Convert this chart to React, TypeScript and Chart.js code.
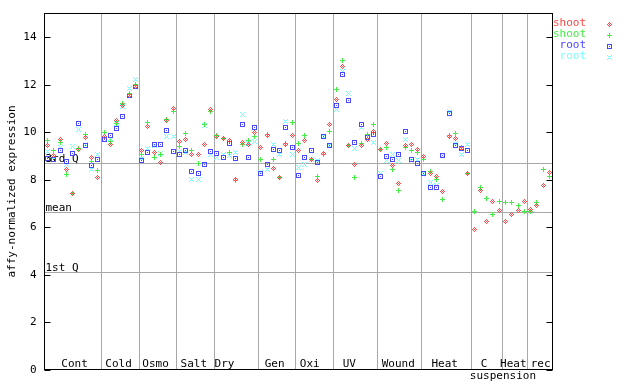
import React, { useEffect, useRef } from 'react';
import { Chart, registerables } from 'chart.js';
Chart.register(...registerables);

// ---- data ----
const categories = ['Cont', 'Cold', 'Osmo', 'Salt', 'Dry', 'Gen', 'Oxi', 'UV', 'Wound', 'Heat', 'C', 'Heat', 'rec'];
const groupSizes = [9, 6, 6, 6, 7, 6, 6, 7, 7, 8, 5, 4, 4];
const categoryLabelAt = [4.3, 11.3, 17.2, 23.3, 28.2, 36.2, 41.8, 48.1, 55.9, 63.3, 69.6, 74.25, 78.6];
const subLabel = 'suspension';
const subLabelAt = 72.6;
const yTicks = [0, 2, 4, 6, 8, 10, 12, 14];
const refLines = [
  { name: '3rd Q', value: 8.70 },
  { name: 'mean', value: 6.62 },
  { name: '1st Q', value: 4.10 },
];
const seriesNames = ['shoot', 'shoot', 'root', 'root'];

const shootA = [
  9.42, 9.00, 9.71, 8.44, 7.42, 9.28, 9.78, 8.94, 8.10,
  9.81, 9.50, 10.51, 11.13, 11.55, 11.93,
  9.21, 10.23, 9.15, 8.73, 10.49, 11.00,
  9.60, 9.70, 9.08, 9.08, 9.49, 10.94,
  9.80, 9.74, 9.66, 7.99, 9.57, 9.46, 9.99,
  9.36, 9.84, 8.48, 8.10, 9.49, 9.87,
  9.24, 9.66, 8.85, 7.97, 9.11, 10.33,
  11.39, 12.78, 9.42, 8.62, 9.45, 9.70, 10.04,
  9.28, 9.53, 8.59, 7.82, 9.42, 9.46, 9.25,
  8.97, 8.27, 8.15, 7.48, 9.81, 9.73, 9.32, 8.24,
  5.88, 7.54, 6.23, 7.09, 6.68,
  6.23, 6.55, 6.68, 7.09,
  6.76, 6.93, 7.77, 8.31,
];
const shootB = [
  9.63, 9.21, 9.57, 8.20, 7.42, 9.32, 9.91, 8.76, 8.39,
  10.00, 9.60, 10.37, 11.19, 11.64, 11.99,
  9.04, 10.40, 8.94, 9.07, 10.54, 10.86,
  9.39, 9.95, 9.21, 8.69, 10.33, 10.85,
  9.84, 9.74, 9.15, 7.96, 9.49, 9.63, 9.81,
  8.86, 9.90, 8.86, 8.10, 9.53, 10.39,
  9.53, 9.84, 8.83, 8.13, 9.04, 10.01,
  11.78, 13.03, 9.42, 8.10, 9.53, 9.91, 10.33,
  9.28, 9.35, 8.44, 7.56, 9.35, 9.22, 9.15,
  8.86, 8.36, 8.02, 7.17, 9.88, 9.95, 9.35, 8.24,
  6.67, 7.68, 7.21, 6.54, 7.09,
  7.05, 7.05, 6.93, 6.64,
  6.64, 7.05, 8.44, 8.13,
];
const rootA = [
  8.87, 8.86, 9.21, 8.76, 9.11, 10.37, 9.42, 8.59, 8.86,
  9.67, 9.87, 10.16, 10.67, 11.55, 11.93,
  8.82, 9.15, 9.49, 9.49, 10.08, 9.19,
  9.07, 9.21, 8.35, 8.27, 8.65, 9.18,
  9.11, 8.94, 9.53, 8.90, 10.33, 8.94, 10.21,
  8.24, 8.65, 9.28, 9.21, 10.21, 9.36,
  8.18, 8.94, 9.24, 8.72, 9.83, 9.42,
  11.13, 12.45, 11.34, 9.57, 10.33, 9.78, 9.91,
  8.13, 8.97, 8.86, 9.07, 10.04, 8.83, 8.69,
  8.27, 7.66, 7.66, 9.02, 10.80, 9.42, 9.32, 9.22,
  null, null, null, null, null,
  null, null, null, null,
  null, null, null, null,
];
const rootB = [
  9.18, 8.95, 9.36, 8.62, 9.41, 10.12, 9.50, 8.44, 9.04,
  9.67, 9.74, 10.35, 11.07, 11.83, 12.20,
  8.90, 9.33, 9.42, 9.11, 9.80, 9.80,
  9.18, 9.14, 8.01, 7.99, 10.30, 9.08,
  8.94, 9.08, 9.00, 9.14, 10.74, 9.53, 9.60,
  8.32, 8.44, 9.50, 9.04, 10.43, 9.08,
  8.52, 8.65, 8.83, 8.79, 9.83, 9.42,
  10.94, 12.57, 11.64, 9.32, 10.21, 9.71, 9.57,
  8.27, 8.80, 9.07, 8.80, 9.70, 8.80, 8.83,
  8.27, 7.87, 7.75, 9.02, 10.86, 9.53, 9.07, 9.49,
  null, null, null, null, null,
  null, null, null, null,
  null, null, null, null,
];

const COLORS = ['#ff4848', '#44ee44', '#4848ff', '#77ffff'];
const FONT = '11px "DejaVu Sans Mono", monospace';

type Kind = 'diamond' | 'plus' | 'square' | 'x';
function sprite(color: string, kind: Kind): HTMLCanvasElement {
  const c = document.createElement('canvas');
  c.width = 5;
  c.height = 5;
  const g = c.getContext('2d')!;
  g.fillStyle = color;
  let pts: number[][] = [];
  if (kind === 'diamond') pts = [[2, 0], [1, 1], [3, 1], [0, 2], [2, 2], [4, 2], [1, 3], [3, 3], [2, 4]];
  if (kind === 'plus') pts = [[2, 0], [2, 1], [0, 2], [1, 2], [2, 2], [3, 2], [4, 2], [2, 3], [2, 4]];
  if (kind === 'square') pts = [[0, 0], [1, 0], [2, 0], [3, 0], [4, 0], [0, 4], [1, 4], [2, 4], [3, 4], [4, 4], [0, 1], [0, 2], [0, 3], [4, 1], [4, 2], [4, 3], [2, 2]];
  if (kind === 'x') pts = [[0, 0], [4, 0], [1, 1], [3, 1], [2, 2], [1, 3], [3, 3], [0, 4], [4, 4]];
  pts.forEach(([x, y]) => g.fillRect(x, y, 1, 1));
  return c;
}

export default function App() {
  const ref = useRef<HTMLCanvasElement>(null);
  useEffect(() => {
    document.body.style.margin = '0';
    const kinds: Kind[] = ['diamond', 'plus', 'square', 'x'];
    const sprites = kinds.map((k, i) => sprite(COLORS[i], k));
    const all = [shootA, shootB, rootA, rootB];
    const datasets = all.map((arr, si) => ({
      label: seriesNames[si],
      data: arr.map((v, i) => ({ x: i, y: v })).filter((p) => p.y !== null),
      pointStyle: sprites[si] as any,
      pointRadius: 3,
      showLine: false,
    }));

    const bounds: number[] = [];
    let acc = 0;
    groupSizes.forEach((n) => { acc += n; bounds.push(acc - 0.5); });

    const deco = {
      id: 'deco',
      beforeDatasetsDraw(chart: any) {
        const { ctx, chartArea: a, scales } = chart;
        const xs = scales.x, ys = scales.y;
        ctx.save();
        ctx.lineWidth = 1;
        ctx.strokeStyle = '#a8a8a8';
        bounds.slice(0, -1).forEach((b) => {
          const px = Math.round(xs.getPixelForValue(b)) + 0.5;
          ctx.beginPath(); ctx.moveTo(px, a.top); ctx.lineTo(px, a.bottom); ctx.stroke();
        });
        ctx.font = FONT;
        ctx.fillStyle = '#000';
        refLines.forEach((r) => {
          const py = Math.round(ys.getPixelForValue(r.value)) + 0.5;
          ctx.beginPath(); ctx.moveTo(a.left, py); ctx.lineTo(a.right, py); ctx.stroke();
          ctx.textAlign = 'left'; ctx.textBaseline = 'alphabetic';
          ctx.fillText(r.name, a.left + 1, py - 1.5);
        });
        // category labels
        ctx.textAlign = 'center'; ctx.textBaseline = 'middle';
        categories.forEach((c, i) => {
          ctx.fillText(c, xs.getPixelForValue(categoryLabelAt[i]), a.bottom - 5);
        });
        ctx.fillText(subLabel, xs.getPixelForValue(subLabelAt), a.bottom + 7);
        // border
        ctx.strokeStyle = '#000';
        ctx.strokeRect(a.left, a.top, a.right - a.left, a.bottom - a.top);
        // ticks
        ctx.textAlign = 'right'; ctx.textBaseline = 'middle';
        yTicks.forEach((t) => {
          const py = Math.round(ys.getPixelForValue(t)) + 0.5;
          ctx.beginPath();
          ctx.moveTo(a.left, py); ctx.lineTo(a.left + 6, py);
          ctx.moveTo(a.right - 6, py); ctx.lineTo(a.right, py);
          ctx.stroke();
          ctx.fillText(String(t), a.left - 8, py);
        });
        // y title
        ctx.save();
        ctx.translate(12, (a.top + a.bottom) / 2);
        ctx.rotate(-Math.PI / 2);
        ctx.textAlign = 'center'; ctx.textBaseline = 'middle';
        ctx.fillText('affy-normalized expression', 0, 0);
        ctx.restore();
        ctx.restore();
        ctx.imageSmoothingEnabled = false;
      },
      afterDraw(chart: any) {
        const { ctx } = chart;
        ctx.save();
        ctx.imageSmoothingEnabled = false;
        ctx.font = FONT;
        ctx.textAlign = 'right'; ctx.textBaseline = 'middle';
        seriesNames.forEach((n, i) => {
          const y = 23.5 + i * 11;
          ctx.fillStyle = COLORS[i];
          ctx.fillText(n, 586, y);
          ctx.drawImage(sprites[i], 607, Math.round(y) - 2);
        });
        ctx.restore();
      },
    };

    const chart = new Chart(ref.current!, {
      type: 'scatter',
      data: { datasets: datasets as any },
      options: {
        animation: false,
        responsive: false,
        devicePixelRatio: 1,
        layout: { padding: { left: 44.5, right: 87.5, top: 13.5, bottom: 14.5 } },
        scales: {
          x: { type: 'linear', min: -0.5, max: 80.5, display: false },
          y: { type: 'linear', min: 0, max: 15, display: false },
        },
        plugins: { legend: { display: false }, tooltip: { enabled: false } },
      },
      plugins: [deco],
    });
    return () => chart.destroy();
  }, []);
  return (
    <div style={{ position: 'absolute', left: 0, top: 0, width: 640, height: 384, background: '#fff' }}>
      <canvas ref={ref} width={640} height={384} style={{ width: 640, height: 384 }} />
    </div>
  );
}
